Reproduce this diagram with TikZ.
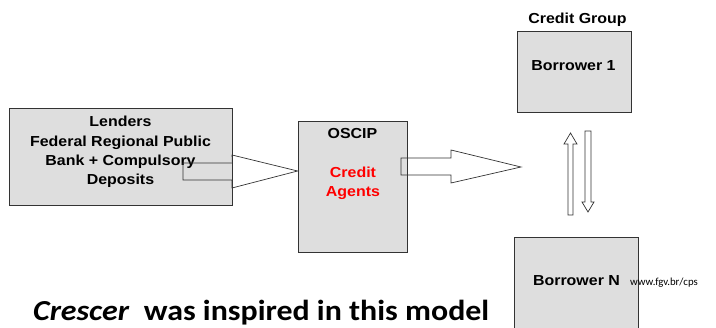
\documentclass[tikz,border=0pt]{standalone}
\usepackage{fontspec}
\newfontfamily\arb[FakeStretch=1.1]{Liberation Sans}
\newfontfamily\calfnt[FakeStretch=1.1]{Carlito}
\newfontfamily\calplain{Carlito}
\definecolor{boxgray}{HTML}{DEDEDE}
\definecolor{edge}{HTML}{333333}
\begin{document}
\begin{tikzpicture}[x=1pt,y=-1pt,
  box/.style={draw=edge,fill=boxgray,line width=0.8pt,inner sep=0pt},
  lbl/.style={anchor=base,inner sep=0pt,font=\arb\bfseries\fontsize{14.5}{19.5}\selectfont},
  blockarrow/.style={draw=edge,line width=0.7pt,line join=miter}]
\useasboundingbox (0,0) rectangle (716,328);
\clip (0,0) rectangle (716,328);
% boxes
\node[box,minimum width=223pt,minimum height=97pt] (lenders) at (120.5,156.5) {};
\node[box,minimum width=109pt,minimum height=131pt] (oscip) at (352.5,186.5) {};
\node[box,minimum width=114pt,minimum height=81pt] (b1) at (574,71.5) {};
\node[box,minimum width=124pt,minimum height=110pt] (bn) at (576,292) {};
% texts
\node[lbl] (t1) at (120.5,127) {Lenders};
\node[lbl] (t2) at (120.5,146.5) {Federal Regional Public};
\node[lbl] (t3) at (120.5,165.5) {Bank + Compulsory};
\node[lbl] (t4) at (120.5,184.5) {Deposits};
\node[lbl] (os) at (352.5,139) {OSCIP};
\node[lbl,text=red] (ca1) at (353,178) {Credit};
\node[lbl,text=red] (ca2) at (353,197) {Agents};
\node[lbl] (cg) at (577.5,24) {Credit Group};
\node[lbl] (b1t) at (573.5,71) {Borrower 1};
\node[lbl] (bnt) at (576.5,286) {Borrower N};
\node[anchor=base west,inner sep=0pt,font=\calplain\fontsize{10.8}{12}\selectfont] (www) at (630,286) {www.fgv.br/cps};
\node[anchor=base west,inner sep=0pt,font=\calfnt\bfseries\fontsize{29}{32}\selectfont] (crescer) at (33,321) {\textit{Crescer}\ \ was inspired in this model};
% block arrows
\draw[blockarrow] (183,163) -- (lenders.east |- 0,163) -- (232,155) -- (oscip.west |- 0,171) -- (232,188) -- (232,180) -- (183,180) -- cycle;
\draw[blockarrow] (401,158) -- (451,158) -- (451,150) -- (521,167) -- (451,183) -- (451,175) -- (401,175) -- cycle;
\draw[blockarrow] (568,215) -- (568,144) -- (564,144) -- (570.5,133) -- (577,144) -- (573,144) -- (573,215) -- cycle;
\draw[blockarrow] (585,131) -- (585,202) -- (582,202) -- (588,212) -- (594,202) -- (591,202) -- (591,131) -- cycle;
\end{tikzpicture}
\end{document}
